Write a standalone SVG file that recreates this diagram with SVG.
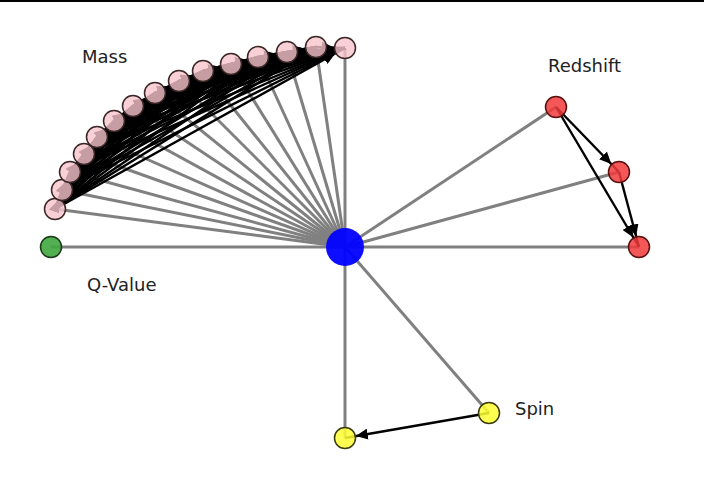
<svg xmlns="http://www.w3.org/2000/svg" width="704" height="489" viewBox="0 0 704 489">
<style>
.g{stroke:#808080;stroke-width:3}
.a{stroke:#000;stroke-width:2.4;marker-end:url(#ah)}
.m{fill:#f7c4cb;fill-opacity:0.8;stroke:#3a2626;stroke-width:1.5}
.r{fill:#f23a3a;fill-opacity:0.85;stroke:#5a1010;stroke-width:1.5}
.y{fill:#ffff33;fill-opacity:0.85;stroke:#3a3a10;stroke-width:1.5}
.q{fill:#3fa63f;fill-opacity:0.9;stroke:#1a3a1a;stroke-width:1.5}
.c{fill:#0000ff;fill-opacity:0.95}
text{font-family:"DejaVu Sans",sans-serif;font-size:18px;fill:#222}
</style>
<defs>
<marker id="ah" markerUnits="userSpaceOnUse" markerWidth="24" markerHeight="11" refX="23" refY="5.5" orient="auto">
<path d="M0,0 L12,5.5 L0,11 z" fill="#000"/>
</marker>
</defs>
<rect x="0" y="0" width="704" height="489" fill="#fff"/>
<rect x="0" y="0" width="704" height="2" fill="#000"/>
<g id="connectors">
<g id="grey">
<line class="g" x1="345" y1="247" x2="55" y2="209"/>
<line class="g" x1="345" y1="247" x2="62" y2="190"/>
<line class="g" x1="345" y1="247" x2="70" y2="172"/>
<line class="g" x1="345" y1="247" x2="84" y2="154"/>
<line class="g" x1="345" y1="247" x2="97" y2="137"/>
<line class="g" x1="345" y1="247" x2="114" y2="121"/>
<line class="g" x1="345" y1="247" x2="133" y2="106"/>
<line class="g" x1="345" y1="247" x2="155" y2="93"/>
<line class="g" x1="345" y1="247" x2="179" y2="81"/>
<line class="g" x1="345" y1="247" x2="203" y2="71"/>
<line class="g" x1="345" y1="247" x2="231" y2="64"/>
<line class="g" x1="345" y1="247" x2="258" y2="57"/>
<line class="g" x1="345" y1="247" x2="287" y2="52"/>
<line class="g" x1="345" y1="247" x2="316" y2="47"/>
<line class="g" x1="345" y1="247" x2="345" y2="48"/>
<line class="g" x1="345" y1="247" x2="51" y2="247"/>
<line class="g" x1="345" y1="247" x2="556" y2="107"/>
<line class="g" x1="345" y1="247" x2="619" y2="172"/>
<line class="g" x1="345" y1="247" x2="639" y2="247"/>
<line class="g" x1="345" y1="247" x2="489" y2="413"/>
<line class="g" x1="345" y1="247" x2="345" y2="438"/>
</g>
<g id="arrows">
<line class="a" x1="55" y1="209" x2="62" y2="190"/>
<line class="a" x1="55" y1="209" x2="70" y2="172"/>
<line class="a" x1="55" y1="209" x2="84" y2="154"/>
<line class="a" x1="55" y1="209" x2="97" y2="137"/>
<line class="a" x1="55" y1="209" x2="114" y2="121"/>
<line class="a" x1="55" y1="209" x2="133" y2="106"/>
<line class="a" x1="55" y1="209" x2="155" y2="93"/>
<line class="a" x1="55" y1="209" x2="179" y2="81"/>
<line class="a" x1="55" y1="209" x2="203" y2="71"/>
<line class="a" x1="55" y1="209" x2="231" y2="64"/>
<line class="a" x1="55" y1="209" x2="258" y2="57"/>
<line class="a" x1="55" y1="209" x2="287" y2="52"/>
<line class="a" x1="55" y1="209" x2="316" y2="47"/>
<line class="a" x1="55" y1="209" x2="345" y2="48"/>
<line class="a" x1="62" y1="190" x2="70" y2="172"/>
<line class="a" x1="62" y1="190" x2="84" y2="154"/>
<line class="a" x1="62" y1="190" x2="97" y2="137"/>
<line class="a" x1="62" y1="190" x2="114" y2="121"/>
<line class="a" x1="62" y1="190" x2="133" y2="106"/>
<line class="a" x1="62" y1="190" x2="155" y2="93"/>
<line class="a" x1="62" y1="190" x2="179" y2="81"/>
<line class="a" x1="62" y1="190" x2="203" y2="71"/>
<line class="a" x1="62" y1="190" x2="231" y2="64"/>
<line class="a" x1="62" y1="190" x2="258" y2="57"/>
<line class="a" x1="62" y1="190" x2="287" y2="52"/>
<line class="a" x1="62" y1="190" x2="316" y2="47"/>
<line class="a" x1="62" y1="190" x2="345" y2="48"/>
<line class="a" x1="70" y1="172" x2="84" y2="154"/>
<line class="a" x1="70" y1="172" x2="97" y2="137"/>
<line class="a" x1="70" y1="172" x2="114" y2="121"/>
<line class="a" x1="70" y1="172" x2="133" y2="106"/>
<line class="a" x1="70" y1="172" x2="155" y2="93"/>
<line class="a" x1="70" y1="172" x2="179" y2="81"/>
<line class="a" x1="70" y1="172" x2="203" y2="71"/>
<line class="a" x1="70" y1="172" x2="231" y2="64"/>
<line class="a" x1="70" y1="172" x2="258" y2="57"/>
<line class="a" x1="70" y1="172" x2="287" y2="52"/>
<line class="a" x1="70" y1="172" x2="316" y2="47"/>
<line class="a" x1="70" y1="172" x2="345" y2="48"/>
<line class="a" x1="84" y1="154" x2="97" y2="137"/>
<line class="a" x1="84" y1="154" x2="114" y2="121"/>
<line class="a" x1="84" y1="154" x2="133" y2="106"/>
<line class="a" x1="84" y1="154" x2="155" y2="93"/>
<line class="a" x1="84" y1="154" x2="179" y2="81"/>
<line class="a" x1="84" y1="154" x2="203" y2="71"/>
<line class="a" x1="84" y1="154" x2="231" y2="64"/>
<line class="a" x1="84" y1="154" x2="258" y2="57"/>
<line class="a" x1="84" y1="154" x2="287" y2="52"/>
<line class="a" x1="84" y1="154" x2="316" y2="47"/>
<line class="a" x1="84" y1="154" x2="345" y2="48"/>
<line class="a" x1="97" y1="137" x2="114" y2="121"/>
<line class="a" x1="97" y1="137" x2="133" y2="106"/>
<line class="a" x1="97" y1="137" x2="155" y2="93"/>
<line class="a" x1="97" y1="137" x2="179" y2="81"/>
<line class="a" x1="97" y1="137" x2="203" y2="71"/>
<line class="a" x1="97" y1="137" x2="231" y2="64"/>
<line class="a" x1="97" y1="137" x2="258" y2="57"/>
<line class="a" x1="97" y1="137" x2="287" y2="52"/>
<line class="a" x1="97" y1="137" x2="316" y2="47"/>
<line class="a" x1="97" y1="137" x2="345" y2="48"/>
<line class="a" x1="114" y1="121" x2="133" y2="106"/>
<line class="a" x1="114" y1="121" x2="155" y2="93"/>
<line class="a" x1="114" y1="121" x2="179" y2="81"/>
<line class="a" x1="114" y1="121" x2="203" y2="71"/>
<line class="a" x1="114" y1="121" x2="231" y2="64"/>
<line class="a" x1="114" y1="121" x2="258" y2="57"/>
<line class="a" x1="114" y1="121" x2="287" y2="52"/>
<line class="a" x1="114" y1="121" x2="316" y2="47"/>
<line class="a" x1="114" y1="121" x2="345" y2="48"/>
<line class="a" x1="133" y1="106" x2="155" y2="93"/>
<line class="a" x1="133" y1="106" x2="179" y2="81"/>
<line class="a" x1="133" y1="106" x2="203" y2="71"/>
<line class="a" x1="133" y1="106" x2="231" y2="64"/>
<line class="a" x1="133" y1="106" x2="258" y2="57"/>
<line class="a" x1="133" y1="106" x2="287" y2="52"/>
<line class="a" x1="133" y1="106" x2="316" y2="47"/>
<line class="a" x1="133" y1="106" x2="345" y2="48"/>
<line class="a" x1="155" y1="93" x2="179" y2="81"/>
<line class="a" x1="155" y1="93" x2="203" y2="71"/>
<line class="a" x1="155" y1="93" x2="231" y2="64"/>
<line class="a" x1="155" y1="93" x2="258" y2="57"/>
<line class="a" x1="155" y1="93" x2="287" y2="52"/>
<line class="a" x1="155" y1="93" x2="316" y2="47"/>
<line class="a" x1="155" y1="93" x2="345" y2="48"/>
<line class="a" x1="179" y1="81" x2="203" y2="71"/>
<line class="a" x1="179" y1="81" x2="231" y2="64"/>
<line class="a" x1="179" y1="81" x2="258" y2="57"/>
<line class="a" x1="179" y1="81" x2="287" y2="52"/>
<line class="a" x1="179" y1="81" x2="316" y2="47"/>
<line class="a" x1="179" y1="81" x2="345" y2="48"/>
<line class="a" x1="203" y1="71" x2="231" y2="64"/>
<line class="a" x1="203" y1="71" x2="258" y2="57"/>
<line class="a" x1="203" y1="71" x2="287" y2="52"/>
<line class="a" x1="203" y1="71" x2="316" y2="47"/>
<line class="a" x1="203" y1="71" x2="345" y2="48"/>
<line class="a" x1="231" y1="64" x2="258" y2="57"/>
<line class="a" x1="231" y1="64" x2="287" y2="52"/>
<line class="a" x1="231" y1="64" x2="316" y2="47"/>
<line class="a" x1="231" y1="64" x2="345" y2="48"/>
<line class="a" x1="258" y1="57" x2="287" y2="52"/>
<line class="a" x1="258" y1="57" x2="316" y2="47"/>
<line class="a" x1="258" y1="57" x2="345" y2="48"/>
<line class="a" x1="287" y1="52" x2="316" y2="47"/>
<line class="a" x1="287" y1="52" x2="345" y2="48"/>
<line class="a" x1="316" y1="47" x2="345" y2="48"/>
<line class="a" x1="556" y1="107" x2="619" y2="172"/>
<line class="a" x1="556" y1="107" x2="639" y2="247"/>
<line class="a" x1="619" y1="172" x2="639" y2="247"/>
<line class="a" x1="489" y1="413" x2="345" y2="438"/>
</g>
</g>
<g id="node-center"><circle class="c" cx="345" cy="247" r="19"/></g>
<g id="node-mass">
<circle class="m" cx="55" cy="209" r="10.5"/>
<circle class="m" cx="62" cy="190" r="10.5"/>
<circle class="m" cx="70" cy="172" r="10.5"/>
<circle class="m" cx="84" cy="154" r="10.5"/>
<circle class="m" cx="97" cy="137" r="10.5"/>
<circle class="m" cx="114" cy="121" r="10.5"/>
<circle class="m" cx="133" cy="106" r="10.5"/>
<circle class="m" cx="155" cy="93" r="10.5"/>
<circle class="m" cx="179" cy="81" r="10.5"/>
<circle class="m" cx="203" cy="71" r="10.5"/>
<circle class="m" cx="231" cy="64" r="10.5"/>
<circle class="m" cx="258" cy="57" r="10.5"/>
<circle class="m" cx="287" cy="52" r="10.5"/>
<circle class="m" cx="316" cy="47" r="10.5"/>
<circle class="m" cx="345" cy="48" r="10.5"/>
<text x="82" y="63">Mass</text>
</g>
<g id="node-qvalue">
<circle class="q" cx="51" cy="247" r="10.5"/>
<text x="87" y="291">Q-Value</text>
</g>
<g id="node-redshift">
<circle class="r" cx="556" cy="107" r="10.5"/>
<circle class="r" cx="619" cy="172" r="10.5"/>
<circle class="r" cx="639" cy="247" r="10.5"/>
<text x="548" y="72">Redshift</text>
</g>
<g id="node-spin">
<circle class="y" cx="489" cy="413" r="10.5"/>
<circle class="y" cx="345" cy="438" r="10.5"/>
<text x="515" y="415">Spin</text>
</g>
</svg>
